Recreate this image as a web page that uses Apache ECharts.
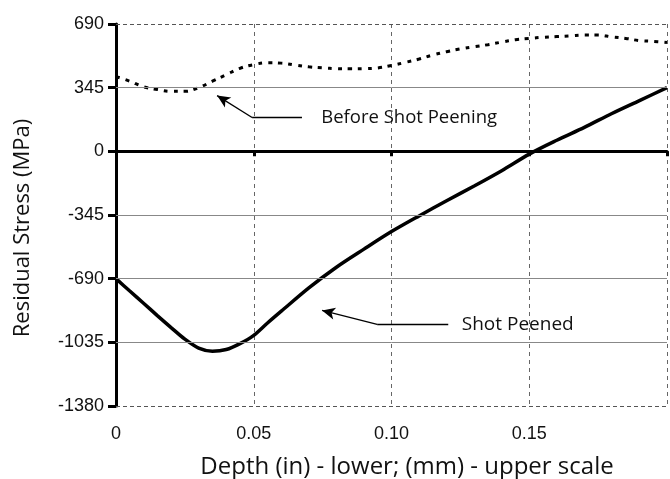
<!DOCTYPE html>
<html><head><meta charset="utf-8">
<script src="https://cdn.jsdelivr.net/npm/echarts@6/dist/echarts.min.js"></script>
<style>html,body{margin:0;padding:0;background:#fff}#c{width:670px;height:479px}</style>
</head><body><div id="c"></div><script>
// Shot Peened (solid)
const depthShot  = [0, 0.005, 0.01, 0.015, 0.02, 0.025, 0.03, 0.035, 0.04, 0.045, 0.05, 0.055, 0.06, 0.07, 0.08, 0.09, 0.10, 0.11, 0.12, 0.13, 0.14, 0.15, 0.16, 0.17, 0.18, 0.19, 0.20];
const stressShot = [-690, -757, -823, -890, -955, -1018, -1066, -1083, -1074, -1042, -997, -930, -866, -740, -628, -530, -435, -350, -268, -188, -105, -15, 60, 130, 205, 275, 345];
// Before Shot Peening (dotted)
const depthBefore  = [0, 0.005, 0.01, 0.015, 0.02, 0.025, 0.03, 0.035, 0.04, 0.045, 0.05, 0.055, 0.06, 0.065, 0.07, 0.075, 0.08, 0.085, 0.09, 0.095, 0.10, 0.105, 0.11, 0.115, 0.12, 0.125, 0.13, 0.135, 0.14, 0.145, 0.15, 0.155, 0.16, 0.165, 0.17, 0.175, 0.18, 0.185, 0.19, 0.195, 0.20];
const stressBefore = [405, 380, 350, 335, 325, 325, 345, 380, 415, 450, 470, 480, 478, 468, 458, 452, 448, 447, 448, 452, 465, 482, 500, 522, 540, 555, 567, 578, 592, 605, 612, 618, 622, 626, 630, 630, 620, 612, 600, 596, 590];
// axis ticks
const xTicks = [0, 0.05, 0.10, 0.15, 0.20];
const xTickLabels = ['0', '0.05', '0.10', '0.15', ''];
const yTicks = [-1380, -1035, -690, -345, 0, 345, 690];
const yGridSolid = [345, -345, -690, -1035];
const yGridDashed = [690, -1380];
// annotations
const annBefore = {text: 'Before Shot Peening', head: [0.0367, 302], bend: [0.0494, 183], end: [0.0675, 183], textAt: [0.0745, 183]};
const annShot = {text: 'Shot Peened', head: [0.0748, -862], bend: [0.0948, -938], end: [0.1206, -938], textAt: [0.1255, -938]};

const chart = echarts.init(document.getElementById('c'), null, {renderer: 'canvas'});
const xMin = xTicks[0], xMax = xTicks[xTicks.length - 1], xInt = xTicks[1] - xTicks[0];
const yMin = yTicks[0], yMax = yTicks[yTicks.length - 1], yInt = yTicks[1] - yTicks[0];

function annLines(a) {
  return [
    [{coord: a.end, symbol: 'none'}, {coord: a.bend, symbol: 'none'}],
    [{coord: a.bend, symbol: 'none'}, {coord: a.head, symbol: 'arrow', symbolSize: [9, 13]}]
  ];
}
function annText(a, size) {
  return {coord: a.textAt, symbol: 'circle', symbolSize: 0,
    label: {show: true, position: 'right', distance: 0, formatter: a.text,
      fontFamily: 'Open Sans', fontSize: size, color: '#111'}};
}

const option = {
  animation: false,
  backgroundColor: '#fff',
  grid: {left: 116, right: 3, top: 24, bottom: 73, containLabel: false},
  xAxis: [
    {type: 'value', min: xMin, max: xMax, interval: xInt, position: 'bottom',
      axisLine: {onZero: true, lineStyle: {color: '#000', width: 3}},
      axisTick: {show: true, inside: false, length: 5, lineStyle: {color: '#000', width: 3}},
      axisLabel: {show: false},
      splitLine: {show: true, lineStyle: {color: '#666', width: 1, type: [4, 4]}}},
    {type: 'value', min: xMin, max: xMax, interval: xInt, position: 'bottom',
      axisLine: {show: false, onZero: false}, axisTick: {show: false}, splitLine: {show: false},
      axisLabel: {show: true, margin: 19, fontFamily: 'Liberation Sans', fontSize: 18, color: '#111',
        formatter: function (v) { const i = xTicks.findIndex(t => Math.abs(t - v) < 1e-9); return i >= 0 ? xTickLabels[i] : ''; }}}
  ],
  yAxis: {type: 'value', min: yMin, max: yMax, interval: yInt,
    axisLine: {show: true, onZero: false, lineStyle: {color: '#000', width: 3}},
    axisTick: {show: true, length: 8, lineStyle: {color: '#000', width: 3}},
    axisLabel: {margin: 12, fontFamily: 'Liberation Sans', fontSize: 18, color: '#111',
      formatter: function (v) { return String(v); }},
    splitLine: {show: false}},
  graphic: [
    {type: 'text', x: 407, y: 467, style: {text: 'Depth (in) - lower; (mm) - upper scale', font: '24px "Open Sans"', fill: '#111', align: 'center', verticalAlign: 'middle'}},
    {type: 'text', x: 23, y: 228, rotation: Math.PI / 2, style: {text: 'Residual Stress (MPa)', font: '22px "Open Sans"', fill: '#111', align: 'center', verticalAlign: 'middle'}}
  ],
  series: [
    {type: 'line', name: 'grid', data: [], z: 1, silent: true,
      markLine: {silent: true, symbol: 'none', label: {show: false}, animation: false,
        data: yGridSolid.map(v => ({yAxis: v, lineStyle: {color: '#888', width: 1, type: 'solid'}}))
          .concat(yGridDashed.map(v => ({yAxis: v, lineStyle: {color: '#555', width: 1, type: [4, 3]}})))}},
    {type: 'line', name: 'Before Shot Peening', xAxisIndex: 0, z: 3,
      data: depthBefore.map((d, i) => [d, stressBefore[i]]),
      smooth: 0.4, showSymbol: false, symbol: 'none',
      lineStyle: {color: '#000', width: 3, type: [4, 6], cap: 'butt'},
      markLine: {silent: true, label: {show: false}, lineStyle: {color: '#000', width: 1.3, type: 'solid'},
        data: annLines(annBefore)},
      markPoint: {silent: true, data: [annText(annBefore, 18.5)]}},
    {type: 'line', name: 'Shot Peened', xAxisIndex: 0, z: 4,
      data: depthShot.map((d, i) => [d, stressShot[i]]),
      smooth: 0.3, showSymbol: false, symbol: 'none',
      lineStyle: {color: '#000', width: 3.5},
      markLine: {silent: true, label: {show: false}, lineStyle: {color: '#000', width: 1.3, type: 'solid'},
        data: annLines(annShot)},
      markPoint: {silent: true, data: [annText(annShot, 19)]}}
  ]
};
chart.setOption(option);
</script></body></html>
